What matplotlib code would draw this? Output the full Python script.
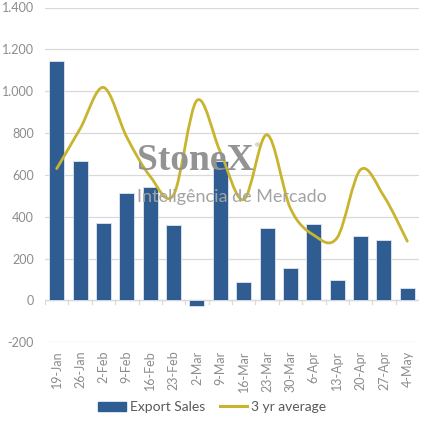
import matplotlib
matplotlib.use("Agg")
import matplotlib.pyplot as plt
from matplotlib.path import Path
from matplotlib.patches import PathPatch
from matplotlib.lines import Line2D
from matplotlib.patches import Patch
from matplotlib.ticker import FuncFormatter
import numpy as np

categories = ["19-Jan", "26-Jan", "2-Feb", "9-Feb", "16-Feb", "23-Feb", "2-Mar", "9-Mar",
              "16-Mar", "23-Mar", "30-Mar", "6-Apr", "13-Apr", "20-Apr", "27-Apr", "4-May"]
export_sales = [1144, 668, 372, 514, 543, 361, -25, 665, 87, 348, 154, 363, 99, 310, 290, 61]
avg_3yr = [630, 820, 1018, 780, 593, 505, 956, 710, 482, 792, 440, 312, 300, 625, 498, 283]
y_ticks = [-200, 0, 200, 400, 600, 800, 1000, 1200, 1400]

BAR = "#2F5D92"
LINE = "#C8B42E"
GRID = "#D9D9D9"
TXT = "#8C8C8C"

plt.rcParams['font.family'] = ['Lato', 'DejaVu Sans']

fig = plt.figure(figsize=(4.25, 4.26), dpi=100)
ax = fig.add_axes([45/425, 1-342.3/426, (419-45)/425, (342.3-7.5)/426])

x = np.arange(len(categories))
ax.bar(x, export_sales, width=0.64, color=BAR, edgecolor="#dfe6ef", linewidth=0.6, zorder=2)

# Excel-like smoothed line (Catmull-Rom as cubic Bezier)
pts = np.column_stack([x, avg_3yr]).astype(float)
verts = [tuple(pts[0])]
codes = [Path.MOVETO]
n = len(pts)
for i in range(n - 1):
    p0 = pts[i - 1] if i > 0 else pts[i]
    p1 = pts[i]
    p2 = pts[i + 1]
    p3 = pts[i + 2] if i + 2 < n else pts[i + 1]
    c1 = p1 + (p2 - p0) / 6.0
    c2 = p2 - (p3 - p1) / 6.0
    verts += [tuple(c1), tuple(c2), tuple(p2)]
    codes += [Path.CURVE4] * 3
ax.add_patch(PathPatch(Path(verts, codes), facecolor="none", edgecolor=LINE,
                       linewidth=2.0, zorder=3, capstyle="round"))

ax.set_xlim(-0.5, len(categories) - 0.5)
ax.set_ylim(-200, 1400)
ax.set_yticks(y_ticks)
ax.yaxis.set_major_formatter(FuncFormatter(lambda v, p: f"{int(v):,}".replace(",", ".")))
ax.grid(axis="y", color=GRID, linewidth=0.9, zorder=0)
ax.set_axisbelow(True)
for s in ax.spines.values():
    s.set_visible(False)
ax.axhline(0, color=GRID, linewidth=0.9, zorder=1)

ax.set_xticks(x)
ax.set_xticklabels(categories, rotation=90, color=TXT, fontsize=9)
ax.tick_params(axis="x", length=0, pad=6)
ax.tick_params(axis="y", length=0, pad=8, labelcolor=TXT, labelsize=9)
# small category boundary ticks on the zero line
for b in np.arange(-0.5, len(categories) + 0.5, 1.0):
    ax.plot([b, b], [0, -18], color=GRID, linewidth=0.9, zorder=1)

# watermark
fig.text(137/425, 1-170/426, "StoneX", family="Liberation Serif", fontsize=27, fontweight="bold",
         color="#939393", ha="left", va="baseline")
fig.text(255/425, 1-147/426, "®", fontsize=4.5, color="#939393", ha="left", va="baseline")
fig.text(137/425, 1-202/426, "Inteligência de Mercado", fontsize=13,
         color="#A3A3A3", ha="left", va="baseline")

handles = [Patch(facecolor=BAR, edgecolor=BAR), Line2D([0], [0], color=LINE, linewidth=2.2)]
fig.legend(handles, ["Export Sales", "3 yr average"], loc="center", bbox_to_anchor=(0.5, 1-407/426),
           ncol=2, frameon=False, fontsize=10, labelcolor="#595959", handlelength=2.0,
           handleheight=0.6, handletextpad=0.3, columnspacing=1.0)

fig.savefig("out.png", dpi=100)
